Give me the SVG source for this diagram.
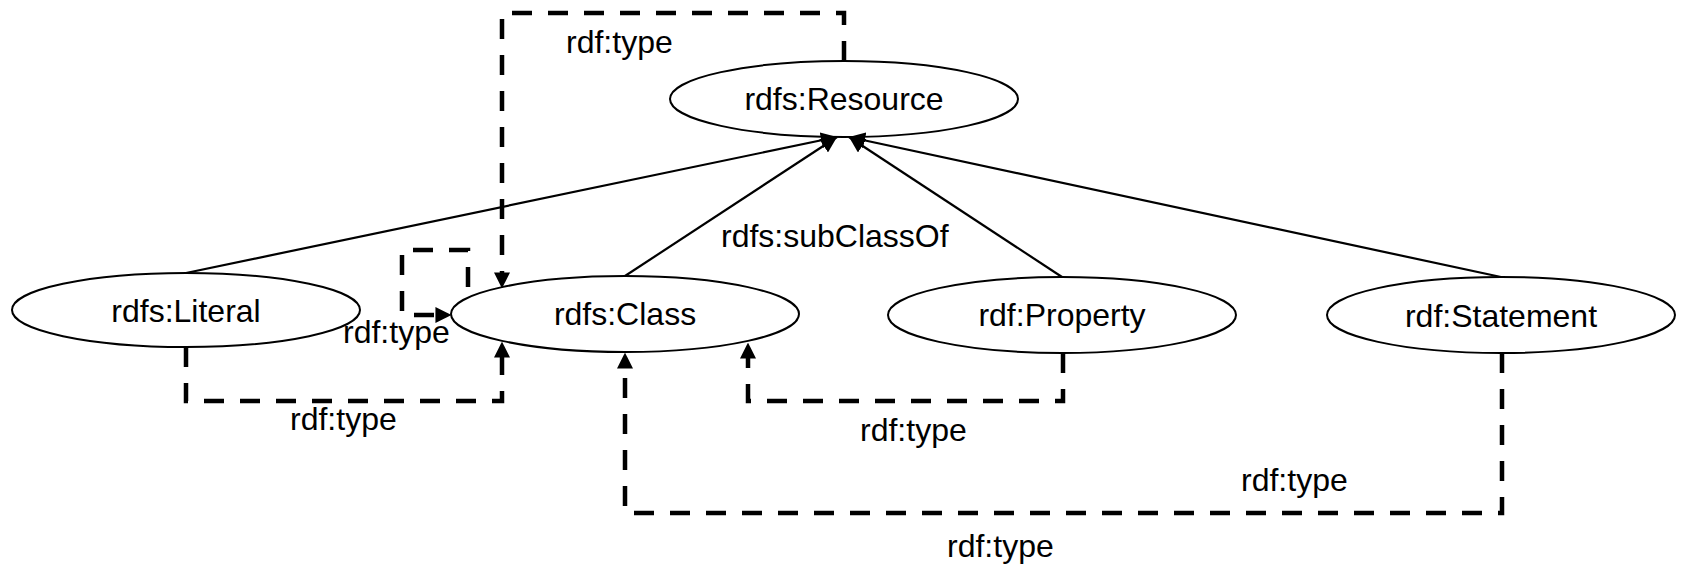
<svg xmlns="http://www.w3.org/2000/svg" width="1681" height="567" viewBox="0 0 1681 567">
<defs>
<style>
.node ellipse{fill:#fff;stroke:#000;stroke-width:2}
text{font-family:"Liberation Sans",Arial,sans-serif;font-size:32px;fill:#000}
.node text{text-anchor:middle}
.sub{fill:none;stroke:#000;stroke-width:2.2}
.type{fill:none;stroke:#000;stroke-width:4.5;stroke-dasharray:20 16}
</style>
<marker id="ah" markerUnits="userSpaceOnUse" markerWidth="16" markerHeight="16" refX="14" refY="7" orient="auto" viewBox="0 0 14 14">
<path d="M0,0 L14,7 L0,14 z" fill="#000"/>
</marker>
<marker id="ahd" markerUnits="userSpaceOnUse" markerWidth="16" markerHeight="16" refX="4" refY="7" orient="auto" viewBox="0 0 14 14">
<path d="M0,0 L14,7 L0,14 z" fill="#000"/>
</marker>
</defs>
<rect width="1681" height="567" fill="#fff"/>
<g id="resource" class="node">
<ellipse cx="844" cy="99" rx="174" ry="38"/>
<text x="844" y="110">rdfs:Resource</text>
</g>
<g id="literal" class="node">
<ellipse cx="186" cy="310" rx="174" ry="37"/>
<text x="186" y="322">rdfs:Literal</text>
</g>
<g id="class" class="node">
<ellipse cx="625" cy="314" rx="174" ry="38"/>
<text x="625" y="325">rdfs:Class</text>
</g>
<g id="property" class="node">
<ellipse cx="1062" cy="315" rx="174" ry="38"/>
<text x="1062" y="326">rdf:Property</text>
</g>
<g id="statement" class="node">
<ellipse cx="1501" cy="315" rx="174" ry="38"/>
<text x="1501" y="327">rdf:Statement</text>
</g>
<g id="connectors">
<path class="sub" d="M186,273 L837,137" marker-end="url(#ah)"/>
<path class="sub" d="M625,276 L837,137" marker-end="url(#ah)"/>
<path class="sub" d="M1062,277 L849,137" marker-end="url(#ah)"/>
<path class="sub" d="M1501,277 L849,137" marker-end="url(#ah)"/>
<path class="type" d="M844,61 V13 H502 V277" marker-end="url(#ahd)"/>
<path class="type" d="M468,287 V250 H402 V315 H440" marker-end="url(#ahd)"/>
<path class="type" d="M186,347 V401 H502 V353" marker-end="url(#ahd)"/>
<path class="type" d="M1063,353 V401 H748 V354" marker-end="url(#ahd)"/>
<path class="type" d="M1502,353 V513 H625 V364" marker-end="url(#ahd)"/>
<text x="566" y="53">rdf:type</text>
<text x="721" y="247">rdfs:subClassOf</text>
<text x="343" y="343">rdf:type</text>
<text x="290" y="430">rdf:type</text>
<text x="860" y="441">rdf:type</text>
<text x="1241" y="491">rdf:type</text>
<text x="947" y="557">rdf:type</text>
</g>
</svg>
